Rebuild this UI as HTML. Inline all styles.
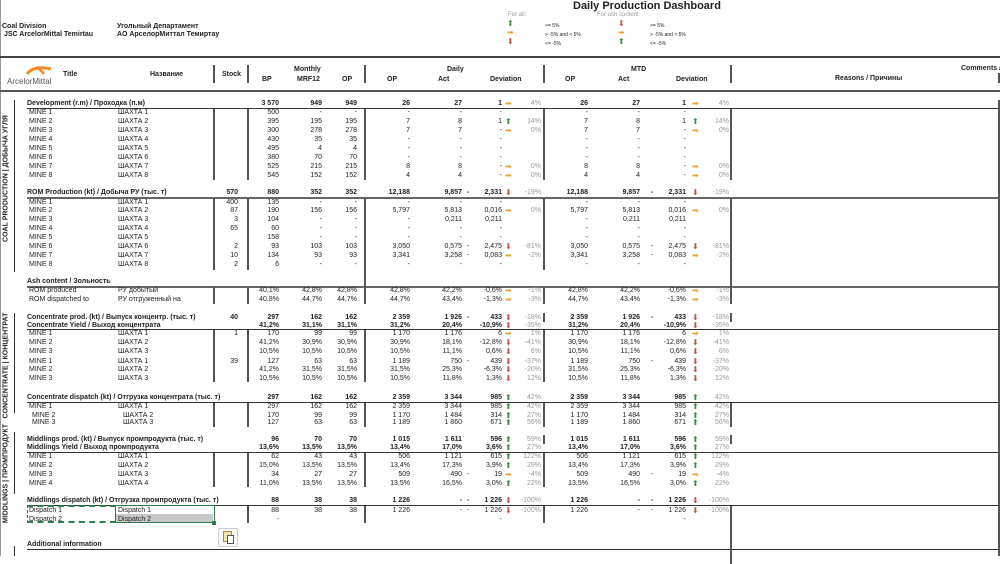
<!DOCTYPE html>
<html><head><meta charset="utf-8"><style>
*{margin:0;padding:0;box-sizing:border-box}
body{width:1000px;height:556px;background:#fff;position:relative;overflow:hidden;font-family:"Liberation Sans","DejaVu Sans",sans-serif;color:#222}
.a{position:absolute;white-space:nowrap}
.r{position:absolute;left:0;width:1000px;height:9px;font-size:7px;line-height:9px}
.r span{position:absolute;white-space:nowrap}
.b{font-weight:bold}
.t{left:29px}.n{left:118px}
.st{right:762px}.bp{right:721px}.mr{right:678px}.op{right:643px}
.dop{right:590px}.dac{right:538px}.dd{left:467px}.ddev{right:498px}.da{left:505px}.dp{right:459px;color:#999}
.mop{right:412px}.mac{right:360px}.md{left:651px}.mdev{right:314px}.ma{left:692px}.mp{right:271px;color:#999}
.g{color:#3a8a4a;font-family:"DejaVu Sans",sans-serif;font-size:8px;font-weight:normal}
.o{color:#e8a33a;font-family:"DejaVu Sans",sans-serif;font-size:8px;font-weight:normal}
.x{color:#c5504f;font-family:"DejaVu Sans",sans-serif;font-size:8px;font-weight:normal}
.h{position:absolute;height:1px;background:#333}
.v{position:absolute;width:2px;background:#555}
.hd{font-size:7px;font-weight:bold;position:absolute;white-space:nowrap}
.rot{position:absolute;transform:rotate(-90deg);transform-origin:center;font-size:7px;font-weight:bold;white-space:nowrap;text-align:center}
</style></head><body>
<div class="a" style="left:0;top:0;width:1px;height:556px;background:#999"></div>
<div class="a b" style="left:2px;top:23px;font-size:7px">Coal Division</div>
<div class="a b" style="left:4px;top:31px;font-size:7px">JSC ArcelorMittal Temirtau</div>
<div class="a b" style="left:117px;top:23px;font-size:7px">Угольный Департамент</div>
<div class="a b" style="left:117px;top:31px;font-size:7px">АО АрселорМиттал Темиртау</div>
<div class="a b" style="left:573px;top:0px;font-size:11px">Daily Production Dashboard</div>
<div class="a" style="left:508px;top:12px;font-size:6px;color:#999">For all:</div>
<div class="a" style="left:597px;top:12px;font-size:6px;color:#999">For ash content:</div>
<div class="a g" style="left:507px;top:19px">⬆</div><div class="a o" style="left:507px;top:28px">➡</div><div class="a x" style="left:507px;top:37px">⬇</div>
<div class="a" style="left:545px;top:23px;font-size:5px">&gt;= 5%</div><div class="a" style="left:545px;top:32px;font-size:5px">&gt; -5% and &lt; 5%</div><div class="a" style="left:545px;top:41px;font-size:5px">&lt;= -5%</div>
<div class="a x" style="left:618px;top:19px">⬇</div><div class="a o" style="left:618px;top:28px">➡</div><div class="a g" style="left:618px;top:37px">⬆</div>
<div class="a" style="left:650px;top:23px;font-size:5px">&gt;= 5%</div><div class="a" style="left:650px;top:32px;font-size:5px">&gt; -5% and &lt; 5%</div><div class="a" style="left:650px;top:41px;font-size:5px">&lt;= -5%</div>

<div class="a" style="left:0;top:56px;width:1000px;height:2px;background:#444"></div>
<div class="a" style="left:0;top:90px;width:1000px;height:2px;background:#555"></div>
<svg class="a" style="left:26px;top:63px" width="26" height="12"><path d="M1 11 Q8 2 25 6" stroke="#f08a24" stroke-width="3" fill="none"/><path d="M10 4 Q16 8 18 11" stroke="#f08a24" stroke-width="2.5" fill="none"/></svg>
<div class="a" style="left:7px;top:77px;font-size:8px;color:#555">ArcelorMittal</div>
<div class="hd" style="left:63px;top:71px">Title</div>
<div class="hd" style="left:150px;top:71px">Название</div>
<div class="hd" style="left:222px;top:71px">Stock</div>
<div class="hd" style="left:294px;top:66px">Monthly</div>
<div class="hd" style="left:262px;top:76px">BP</div>
<div class="hd" style="left:297px;top:76px">MRF12</div>
<div class="hd" style="left:342px;top:76px">OP</div>
<div class="hd" style="left:447px;top:66px">Daily</div>
<div class="hd" style="left:387px;top:76px">OP</div>
<div class="hd" style="left:438px;top:76px">Act</div>
<div class="hd" style="left:490px;top:76px">Deviation</div>
<div class="hd" style="left:631px;top:66px">MTD</div>
<div class="hd" style="left:565px;top:76px">OP</div>
<div class="hd" style="left:618px;top:76px">Act</div>
<div class="hd" style="left:676px;top:76px">Deviation</div>
<div class="hd" style="left:835px;top:75px">Reasons / Причины</div>
<div class="hd" style="left:961px;top:65px">Comments / К</div>
<div class="v" style="left:213px;top:65px;height:18px"></div>
<div class="v" style="left:247px;top:65px;height:18px"></div>
<div class="v" style="left:364px;top:65px;height:18px"></div>
<div class="v" style="left:543px;top:65px;height:18px"></div>
<div class="v" style="left:730px;top:65px;height:18px"></div>
<div class="v" style="left:998px;top:73px;height:10px"></div>

<div class="h" style="left:27px;top:108px;width:973px"></div>
<div class="h" style="left:27px;top:197px;width:973px;height:2px;background:#666"></div>
<div class="h" style="left:27px;top:286px;width:973px;height:2px;background:#666"></div>
<div class="h" style="left:27px;top:329px;width:973px"></div>
<div class="h" style="left:27px;top:402px;width:973px"></div>
<div class="h" style="left:27px;top:452px;width:973px"></div>
<div class="h" style="left:27px;top:505px;width:973px"></div>
<div class="h" style="left:27px;top:549px;width:973px"></div>
<div class="v" style="left:213px;top:109px;height:71px"></div><div class="v" style="left:247px;top:109px;height:71px"></div><div class="v" style="left:364px;top:109px;height:71px"></div><div class="v" style="left:543px;top:109px;height:71px"></div><div class="v" style="left:730px;top:109px;height:71px"></div>
<div class="v" style="left:213px;top:198px;height:72px"></div><div class="v" style="left:247px;top:198px;height:72px"></div><div class="v" style="left:364px;top:198px;height:92px"></div><div class="v" style="left:543px;top:198px;height:72px"></div><div class="v" style="left:730px;top:198px;height:92px"></div>
<div class="v" style="left:213px;top:287px;height:17px"></div><div class="v" style="left:247px;top:287px;height:17px"></div><div class="v" style="left:364px;top:287px;height:17px"></div><div class="v" style="left:543px;top:287px;height:17px"></div><div class="v" style="left:730px;top:287px;height:17px"></div>
<div class="v" style="left:543px;top:313px;height:9px"></div><div class="v" style="left:730px;top:313px;height:9px"></div>
<div class="v" style="left:213px;top:330px;height:52px"></div><div class="v" style="left:247px;top:330px;height:52px"></div><div class="v" style="left:364px;top:330px;height:52px"></div><div class="v" style="left:543px;top:330px;height:52px"></div>
<div class="v" style="left:213px;top:403px;height:24px"></div><div class="v" style="left:247px;top:403px;height:24px"></div><div class="v" style="left:364px;top:403px;height:24px"></div><div class="v" style="left:543px;top:403px;height:24px"></div><div class="v" style="left:730px;top:403px;height:24px"></div>
<div class="v" style="left:543px;top:435px;height:9px"></div><div class="v" style="left:730px;top:435px;height:9px"></div>
<div class="v" style="left:213px;top:453px;height:34px"></div><div class="v" style="left:247px;top:453px;height:34px"></div><div class="v" style="left:364px;top:453px;height:34px"></div><div class="v" style="left:543px;top:453px;height:34px"></div>
<div class="v" style="left:247px;top:506px;height:17px"></div><div class="v" style="left:364px;top:506px;height:17px"></div><div class="v" style="left:543px;top:506px;height:17px"></div><div class="v" style="left:730px;top:506px;height:58px"></div>
<div class="v" style="left:998px;top:100px;height:456px"></div>

<div class="a" style="left:14px;top:100px;width:1px;height:172px;background:#333"></div>
<div class="a" style="left:14px;top:313px;width:1px;height:100px;background:#333"></div>
<div class="a" style="left:14px;top:432px;width:1px;height:62px;background:#333"></div>
<div class="a" style="left:14px;top:546px;width:1px;height:10px;background:#333"></div>
<div class="rot" style="left:-74px;top:175px;width:160px">COAL PRODUCTION | ДОБЫЧА УГЛЯ</div>
<div class="rot" style="left:-64px;top:362px;width:140px">CONCENTRATE | КОНЦЕНТРАТ</div>
<div class="rot" style="left:-54px;top:470px;width:120px">MIDDLINGS | ПРОМПРОДУКТ</div>

<div class="r b" style="top:99px"><span style="left:27px">Development (r.m) / Проходка (п.м)</span><span class="bp">3 570</span><span class="mr">949</span><span class="op">949</span><span class="dop">26</span><span class="dac">27</span><span class="ddev">1</span><span class="da o">➡</span><span class="dp" style="font-weight:normal">4%</span><span class="mop">26</span><span class="mac">27</span><span class="mdev">1</span><span class="ma o">➡</span><span class="mp" style="font-weight:normal">4%</span></div>
<div class="r" style="top:108px"><span class="t">MINE 1</span><span class="n">ШАХТА 1</span><span class="bp">500</span><span class="mr">-</span><span class="op">-</span><span class="dop">-</span><span class="dac">-</span><span class="ddev">-</span><span class="mop">-</span><span class="mac">-</span><span class="mdev">-</span></div>
<div class="r" style="top:117px"><span class="t">MINE 2</span><span class="n">ШАХТА 2</span><span class="bp">395</span><span class="mr">195</span><span class="op">195</span><span class="dop">7</span><span class="dac">8</span><span class="ddev">1</span><span class="da g">⬆</span><span class="dp">14%</span><span class="mop">7</span><span class="mac">8</span><span class="mdev">1</span><span class="ma g">⬆</span><span class="mp">14%</span></div>
<div class="r" style="top:126px"><span class="t">MINE 3</span><span class="n">ШАХТА 3</span><span class="bp">300</span><span class="mr">278</span><span class="op">278</span><span class="dop">7</span><span class="dac">7</span><span class="ddev">-</span><span class="da o">➡</span><span class="dp">0%</span><span class="mop">7</span><span class="mac">7</span><span class="mdev">-</span><span class="ma o">➡</span><span class="mp">0%</span></div>
<div class="r" style="top:135px"><span class="t">MINE 4</span><span class="n">ШАХТА 4</span><span class="bp">430</span><span class="mr">35</span><span class="op">35</span><span class="dop">-</span><span class="dac">-</span><span class="ddev">-</span><span class="mop">-</span><span class="mac">-</span><span class="mdev">-</span></div>
<div class="r" style="top:144px"><span class="t">MINE 5</span><span class="n">ШАХТА 5</span><span class="bp">495</span><span class="mr">4</span><span class="op">4</span><span class="dop">-</span><span class="dac">-</span><span class="ddev">-</span><span class="mop">-</span><span class="mac">-</span><span class="mdev">-</span></div>
<div class="r" style="top:153px"><span class="t">MINE 6</span><span class="n">ШАХТА 6</span><span class="bp">380</span><span class="mr">70</span><span class="op">70</span><span class="dop">-</span><span class="dac">-</span><span class="ddev">-</span><span class="mop">-</span><span class="mac">-</span><span class="mdev">-</span></div>
<div class="r" style="top:162px"><span class="t">MINE 7</span><span class="n">ШАХТА 7</span><span class="bp">525</span><span class="mr">215</span><span class="op">215</span><span class="dop">8</span><span class="dac">8</span><span class="ddev">-</span><span class="da o">➡</span><span class="dp">0%</span><span class="mop">8</span><span class="mac">8</span><span class="mdev">-</span><span class="ma o">➡</span><span class="mp">0%</span></div>
<div class="r" style="top:171px"><span class="t">MINE 8</span><span class="n">ШАХТА 8</span><span class="bp">545</span><span class="mr">152</span><span class="op">152</span><span class="dop">4</span><span class="dac">4</span><span class="ddev">-</span><span class="da o">➡</span><span class="dp">0%</span><span class="mop">4</span><span class="mac">4</span><span class="mdev">-</span><span class="ma o">➡</span><span class="mp">0%</span></div>

<div class="r b" style="top:188px"><span style="left:27px">ROM Production (kt) / Добыча РУ (тыс. т)</span><span class="st">570</span><span class="bp">880</span><span class="mr">352</span><span class="op">352</span><span class="dop">12,188</span><span class="dac">9,857</span><span class="dd">-</span><span class="ddev">2,331</span><span class="da x">⬇</span><span class="dp" style="font-weight:normal">-19%</span><span class="mop">12,188</span><span class="mac">9,857</span><span class="md">-</span><span class="mdev">2,331</span><span class="ma x">⬇</span><span class="mp" style="font-weight:normal">-19%</span></div>
<div class="r" style="top:198px"><span class="t">MINE 1</span><span class="n">ШАХТА 1</span><span class="st">400</span><span class="bp">135</span><span class="mr">-</span><span class="op">-</span><span class="dop">-</span><span class="dac">-</span><span class="ddev">-</span><span class="mop">-</span><span class="mac">-</span><span class="mdev">-</span></div>
<div class="r" style="top:206px"><span class="t">MINE 2</span><span class="n">ШАХТА 2</span><span class="st">87</span><span class="bp">190</span><span class="mr">156</span><span class="op">156</span><span class="dop">5,797</span><span class="dac">5,813</span><span class="ddev">0,016</span><span class="da o">➡</span><span class="dp">0%</span><span class="mop">5,797</span><span class="mac">5,813</span><span class="mdev">0,016</span><span class="ma o">➡</span><span class="mp">0%</span></div>
<div class="r" style="top:215px"><span class="t">MINE 3</span><span class="n">ШАХТА 3</span><span class="st">3</span><span class="bp">104</span><span class="mr">-</span><span class="op">-</span><span class="dop">-</span><span class="dac">0,211</span><span class="ddev">0,211</span><span class="mop">-</span><span class="mac">0,211</span><span class="mdev">0,211</span></div>
<div class="r" style="top:224px"><span class="t">MINE 4</span><span class="n">ШАХТА 4</span><span class="st">65</span><span class="bp">60</span><span class="mr">-</span><span class="op">-</span><span class="dop">-</span><span class="dac">-</span><span class="ddev">-</span><span class="mop">-</span><span class="mac">-</span><span class="mdev">-</span></div>
<div class="r" style="top:233px"><span class="t">MINE 5</span><span class="n">ШАХТА 5</span><span class="bp">158</span><span class="mr">-</span><span class="op">-</span><span class="dop">-</span><span class="dac">-</span><span class="ddev">-</span><span class="mop">-</span><span class="mac">-</span><span class="mdev">-</span></div>
<div class="r" style="top:242px"><span class="t">MINE 6</span><span class="n">ШАХТА 6</span><span class="st">2</span><span class="bp">93</span><span class="mr">103</span><span class="op">103</span><span class="dop">3,050</span><span class="dac">0,575</span><span class="dd">-</span><span class="ddev">2,475</span><span class="da x">⬇</span><span class="dp">-81%</span><span class="mop">3,050</span><span class="mac">0,575</span><span class="md">-</span><span class="mdev">2,475</span><span class="ma x">⬇</span><span class="mp">-81%</span></div>
<div class="r" style="top:251px"><span class="t">MINE 7</span><span class="n">ШАХТА 7</span><span class="st">10</span><span class="bp">134</span><span class="mr">93</span><span class="op">93</span><span class="dop">3,341</span><span class="dac">3,258</span><span class="dd">-</span><span class="ddev">0,083</span><span class="da o">➡</span><span class="dp">-2%</span><span class="mop">3,341</span><span class="mac">3,258</span><span class="md">-</span><span class="mdev">0,083</span><span class="ma o">➡</span><span class="mp">-2%</span></div>
<div class="r" style="top:260px"><span class="t">MINE 8</span><span class="n">ШАХТА 8</span><span class="st">2</span><span class="bp">6</span><span class="mr">-</span><span class="op">-</span><span class="dop">-</span><span class="dac">-</span><span class="ddev">-</span><span class="mop">-</span><span class="mac">-</span><span class="mdev">-</span></div>

<div class="r b" style="top:277px"><span style="left:27px">Ash content / Зольность</span></div>
<div class="r" style="top:286px"><span class="t">ROM produced</span><span class="n">РУ добытый</span><span class="bp">40,1%</span><span class="mr">42,8%</span><span class="op">42,8%</span><span class="dop">42,8%</span><span class="dac">42,2%</span><span class="ddev">-0,6%</span><span class="da o">➡</span><span class="dp">-1%</span><span class="mop">42,8%</span><span class="mac">42,2%</span><span class="mdev">-0,6%</span><span class="ma o">➡</span><span class="mp">-1%</span></div>
<div class="r" style="top:295px"><span class="t">ROM dispatched to</span><span class="n">РУ отгруженный на</span><span class="bp">40,8%</span><span class="mr">44,7%</span><span class="op">44,7%</span><span class="dop">44,7%</span><span class="dac">43,4%</span><span class="ddev">-1,3%</span><span class="da o">➡</span><span class="dp">-3%</span><span class="mop">44,7%</span><span class="mac">43,4%</span><span class="mdev">-1,3%</span><span class="ma o">➡</span><span class="mp">-3%</span></div>

<div class="r b" style="top:313px"><span style="left:27px">Concentrate prod. (kt) / Выпуск концентр. (тыс. т)</span><span class="st">40</span><span class="bp">297</span><span class="mr">162</span><span class="op">162</span><span class="dop">2 359</span><span class="dac">1 926</span><span class="dd">-</span><span class="ddev">433</span><span class="da x">⬇</span><span class="dp" style="font-weight:normal">-18%</span><span class="mop">2 359</span><span class="mac">1 926</span><span class="md">-</span><span class="mdev">433</span><span class="ma x">⬇</span><span class="mp" style="font-weight:normal">-18%</span></div>
<div class="r b" style="top:321px"><span style="left:27px">Concentrate Yield / Выход концентрата</span><span class="bp">41,2%</span><span class="mr">31,1%</span><span class="op">31,1%</span><span class="dop">31,2%</span><span class="dac">20,4%</span><span class="ddev">-10,9%</span><span class="da x">⬇</span><span class="dp" style="font-weight:normal">-35%</span><span class="mop">31,2%</span><span class="mac">20,4%</span><span class="mdev">-10,9%</span><span class="ma x">⬇</span><span class="mp" style="font-weight:normal">-35%</span></div>
<div class="r" style="top:329px"><span class="t">MINE 1</span><span class="n">ШАХТА 1</span><span class="st">1</span><span class="bp">170</span><span class="mr">99</span><span class="op">99</span><span class="dop">1 170</span><span class="dac">1 176</span><span class="ddev">6</span><span class="da o">➡</span><span class="dp">1%</span><span class="mop">1 170</span><span class="mac">1 176</span><span class="mdev">6</span><span class="ma o">➡</span><span class="mp">1%</span></div>
<div class="r" style="top:338px"><span class="t">MINE 2</span><span class="n">ШАХТА 2</span><span class="bp">41,2%</span><span class="mr">30,9%</span><span class="op">30,9%</span><span class="dop">30,9%</span><span class="dac">18,1%</span><span class="ddev">-12,8%</span><span class="da x">⬇</span><span class="dp">-41%</span><span class="mop">30,9%</span><span class="mac">18,1%</span><span class="mdev">-12,8%</span><span class="ma x">⬇</span><span class="mp">-41%</span></div>
<div class="r" style="top:347px"><span class="t">MINE 3</span><span class="n">ШАХТА 3</span><span class="bp">10,5%</span><span class="mr">10,5%</span><span class="op">10,5%</span><span class="dop">10,5%</span><span class="dac">11,1%</span><span class="ddev">0,6%</span><span class="da x">⬇</span><span class="dp">6%</span><span class="mop">10,5%</span><span class="mac">11,1%</span><span class="mdev">0,6%</span><span class="ma x">⬇</span><span class="mp">6%</span></div>
<div class="r" style="top:357px"><span class="t">MINE 1</span><span class="n">ШАХТА 1</span><span class="st">39</span><span class="bp">127</span><span class="mr">63</span><span class="op">63</span><span class="dop">1 189</span><span class="dac">750</span><span class="dd">-</span><span class="ddev">439</span><span class="da x">⬇</span><span class="dp">-37%</span><span class="mop">1 189</span><span class="mac">750</span><span class="md">-</span><span class="mdev">439</span><span class="ma x">⬇</span><span class="mp">-37%</span></div>
<div class="r" style="top:365px"><span class="t">MINE 2</span><span class="n">ШАХТА 2</span><span class="bp">41,2%</span><span class="mr">31,5%</span><span class="op">31,5%</span><span class="dop">31,5%</span><span class="dac">25,3%</span><span class="ddev">-6,3%</span><span class="da x">⬇</span><span class="dp">-20%</span><span class="mop">31,5%</span><span class="mac">25,3%</span><span class="mdev">-6,3%</span><span class="ma x">⬇</span><span class="mp">-20%</span></div>
<div class="r" style="top:374px"><span class="t">MINE 3</span><span class="n">ШАХТА 3</span><span class="bp">10,5%</span><span class="mr">10,5%</span><span class="op">10,5%</span><span class="dop">10,5%</span><span class="dac">11,8%</span><span class="ddev">1,3%</span><span class="da x">⬇</span><span class="dp">12%</span><span class="mop">10,5%</span><span class="mac">11,8%</span><span class="mdev">1,3%</span><span class="ma x">⬇</span><span class="mp">12%</span></div>

<div class="r b" style="top:393px"><span style="left:27px">Concentrate dispatch (kt) / Отгрузка концентрата (тыс. т)</span><span class="bp">297</span><span class="mr">162</span><span class="op">162</span><span class="dop">2 359</span><span class="dac">3 344</span><span class="ddev">985</span><span class="da g">⬆</span><span class="dp" style="font-weight:normal">42%</span><span class="mop">2 359</span><span class="mac">3 344</span><span class="mdev">985</span><span class="ma g">⬆</span><span class="mp" style="font-weight:normal">42%</span></div>
<div class="r" style="top:402px"><span class="t">MINE 1</span><span class="n">ШАХТА 1</span><span class="bp">297</span><span class="mr">162</span><span class="op">162</span><span class="dop">2 359</span><span class="dac">3 344</span><span class="ddev">985</span><span class="da g">⬆</span><span class="dp">42%</span><span class="mop">2 359</span><span class="mac">3 344</span><span class="mdev">985</span><span class="ma g">⬆</span><span class="mp">42%</span></div>
<div class="r" style="top:411px"><span class="t" style="left:32px">MINE 2</span><span class="n" style="left:123px">ШАХТА 2</span><span class="bp">170</span><span class="mr">99</span><span class="op">99</span><span class="dop">1 170</span><span class="dac">1 484</span><span class="ddev">314</span><span class="da g">⬆</span><span class="dp">27%</span><span class="mop">1 170</span><span class="mac">1 484</span><span class="mdev">314</span><span class="ma g">⬆</span><span class="mp">27%</span></div>
<div class="r" style="top:418px"><span class="t" style="left:32px">MINE 3</span><span class="n" style="left:123px">ШАХТА 3</span><span class="bp">127</span><span class="mr">63</span><span class="op">63</span><span class="dop">1 189</span><span class="dac">1 860</span><span class="ddev">671</span><span class="da g">⬆</span><span class="dp">56%</span><span class="mop">1 189</span><span class="mac">1 860</span><span class="mdev">671</span><span class="ma g">⬆</span><span class="mp">56%</span></div>

<div class="r b" style="top:435px"><span style="left:27px">Middlings prod. (kt) / Выпуск промпродукта (тыс. т)</span><span class="bp">96</span><span class="mr">70</span><span class="op">70</span><span class="dop">1 015</span><span class="dac">1 611</span><span class="ddev">596</span><span class="da g">⬆</span><span class="dp" style="font-weight:normal">59%</span><span class="mop">1 015</span><span class="mac">1 611</span><span class="mdev">596</span><span class="ma g">⬆</span><span class="mp" style="font-weight:normal">59%</span></div>
<div class="r b" style="top:443px"><span style="left:27px">Middlings Yield / Выход промпродукта</span><span class="bp">13,6%</span><span class="mr">13,5%</span><span class="op">13,5%</span><span class="dop">13,4%</span><span class="dac">17,0%</span><span class="ddev">3,6%</span><span class="da g">⬆</span><span class="dp" style="font-weight:normal">27%</span><span class="mop">13,4%</span><span class="mac">17,0%</span><span class="mdev">3,6%</span><span class="ma g">⬆</span><span class="mp" style="font-weight:normal">27%</span></div>
<div class="r" style="top:452px"><span class="t">MINE 1</span><span class="n">ШАХТА 1</span><span class="bp">62</span><span class="mr">43</span><span class="op">43</span><span class="dop">506</span><span class="dac">1 121</span><span class="ddev">615</span><span class="da g">⬆</span><span class="dp">122%</span><span class="mop">506</span><span class="mac">1 121</span><span class="mdev">615</span><span class="ma g">⬆</span><span class="mp">122%</span></div>
<div class="r" style="top:461px"><span class="t">MINE 2</span><span class="n">ШАХТА 2</span><span class="bp">15,0%</span><span class="mr">13,5%</span><span class="op">13,5%</span><span class="dop">13,4%</span><span class="dac">17,3%</span><span class="ddev">3,9%</span><span class="da g">⬆</span><span class="dp">29%</span><span class="mop">13,4%</span><span class="mac">17,3%</span><span class="mdev">3,9%</span><span class="ma g">⬆</span><span class="mp">29%</span></div>
<div class="r" style="top:470px"><span class="t">MINE 3</span><span class="n">ШАХТА 3</span><span class="bp">34</span><span class="mr">27</span><span class="op">27</span><span class="dop">509</span><span class="dac">490</span><span class="dd">-</span><span class="ddev">19</span><span class="da o">➡</span><span class="dp">-4%</span><span class="mop">509</span><span class="mac">490</span><span class="md">-</span><span class="mdev">19</span><span class="ma o">➡</span><span class="mp">-4%</span></div>
<div class="r" style="top:479px"><span class="t">MINE 4</span><span class="n">ШАХТА 4</span><span class="bp">11,0%</span><span class="mr">13,5%</span><span class="op">13,5%</span><span class="dop">13,5%</span><span class="dac">16,5%</span><span class="ddev">3,0%</span><span class="da g">⬆</span><span class="dp">22%</span><span class="mop">13,5%</span><span class="mac">16,5%</span><span class="mdev">3,0%</span><span class="ma g">⬆</span><span class="mp">22%</span></div>

<div class="r b" style="top:496px"><span style="left:27px">Middlings dispatch (kt) / Отгрузка промпродукта (тыс. т)</span><span class="bp">88</span><span class="mr">38</span><span class="op">38</span><span class="dop">1 226</span><span class="dac">-</span><span class="dd">-</span><span class="ddev">1 226</span><span class="da x">⬇</span><span class="dp" style="font-weight:normal">-100%</span><span class="mop">1 226</span><span class="mac">-</span><span class="md">-</span><span class="mdev">1 226</span><span class="ma x">⬇</span><span class="mp" style="font-weight:normal">-100%</span></div>
<div class="a" style="left:115px;top:514px;width:98px;height:9px;background:#c8c8c8"></div>
<div class="a" style="left:27px;top:505px;width:89px;height:18px;border:2px dashed #2e7d4f;border-left:1px dashed #2e7d4f;border-right:none"></div>
<div class="a" style="left:115px;top:505px;width:100px;height:18px;border:1px solid #2e7d4f"></div>
<div class="a" style="left:212px;top:521px;width:4px;height:4px;background:#2e7d4f"></div>
<div class="r" style="top:506px"><span class="t">Dispatch 1</span><span class="n">Dispatch 1</span><span class="bp">88</span><span class="mr">38</span><span class="op">38</span><span class="dop">1 226</span><span class="dac">-</span><span class="dd">-</span><span class="ddev">1 226</span><span class="da x">⬇</span><span class="dp">-100%</span><span class="mop">1 226</span><span class="mac">-</span><span class="md">-</span><span class="mdev">1 226</span><span class="ma x">⬇</span><span class="mp">-100%</span></div>
<div class="r" style="top:515px"><span class="t">Dispatch 2</span><span class="n">Dispatch 2</span><span class="bp">-</span><span class="ddev">-</span><span class="mdev">-</span></div>
<div class="a" style="left:218px;top:528px;width:20px;height:19px;border:1px solid #ccc;border-radius:2px;background:#fafafa"></div>
<div class="a" style="left:223px;top:531px;width:9px;height:11px;border:1px solid #b08a3a;background:#f3e3b5"></div>
<div class="a" style="left:227px;top:535px;width:7px;height:9px;border:1px solid #555;background:#fff"></div>
<div class="r b" style="top:540px"><span style="left:27px">Additional information</span></div>
</body></html>
